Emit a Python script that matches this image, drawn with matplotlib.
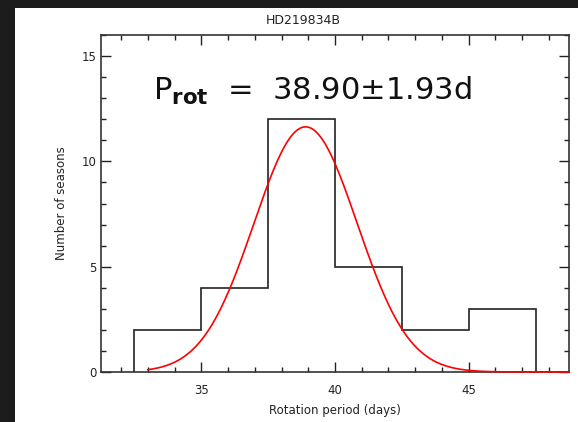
import numpy as np
import matplotlib
matplotlib.use("Agg")
import matplotlib.pyplot as plt
from matplotlib.patches import Rectangle
from matplotlib.ticker import MultipleLocator

bin_edges = [32.5, 35.0, 37.5, 40.0, 42.5, 45.0, 47.5]
counts = [2, 4, 12, 5, 2, 3]
fit_mean = 38.90
fit_sigma = 1.93
fit_amp = 11.64
fit_range = [33.0, 48.75]
title = "HD219834B"

W, H = 578, 422
fig = plt.figure(figsize=(W / 100, H / 100), dpi=100, facecolor="#1c1c1c")
fig.patches.append(Rectangle((15 / W, 0), 1 - 15 / W, 1 - 8 / H,
                             transform=fig.transFigure, facecolor="white",
                             edgecolor="none", zorder=-5))

ax = fig.add_axes([101 / W, 1 - 372 / H, (569 - 101) / W, (372 - 35) / H])
ax.set_zorder(2)
ax.set_facecolor("white")

ax.stairs(counts, bin_edges, color="#222222", lw=1.2, zorder=2)
xs = np.linspace(fit_range[0], fit_range[1], 400)
ys = fit_amp * np.exp(-(xs - fit_mean) ** 2 / (2 * fit_sigma ** 2))
ax.plot(xs, ys, color="red", lw=1.2, zorder=5, clip_on=False)

ax.set_xlim(31.25, 48.75)
ax.set_ylim(0, 16)
ax.xaxis.set_major_locator(MultipleLocator(5))
ax.xaxis.set_minor_locator(MultipleLocator(1))
ax.yaxis.set_major_locator(MultipleLocator(5))
ax.yaxis.set_minor_locator(MultipleLocator(1))
ax.tick_params(which="both", direction="in", top=True, right=True,
               color="#222222", width=1.0, labelsize=8.5, labelcolor="#222222")
ax.tick_params(which="major", length=7.5)
ax.tick_params(axis="x", which="major", pad=9)
ax.tick_params(axis="y", which="major", pad=3)
ax.tick_params(which="minor", length=3.8)
for s in ax.spines.values():
    s.set_color("#333333")
    s.set_linewidth(1.2)

ax.set_xlabel("Rotation period (days)", fontsize=8.5, color="#222222", labelpad=5)
ax.set_ylabel("Number of seasons", fontsize=8.5, color="#222222", labelpad=10)
fig.text(303 / W, 1 - 21 / H, title, ha="center", va="center", fontsize=9,
         color="#222222")

ax.text((153 - 101) / (569 - 101), (372 - 100) / (372 - 35),
        r"P$_{\mathbf{rot}}$  =  38.90$\pm$1.93d",
        transform=ax.transAxes, fontsize=22, color="#111111",
        ha="left", va="baseline")

fig.savefig("out.png", dpi=100, facecolor=fig.get_facecolor())
